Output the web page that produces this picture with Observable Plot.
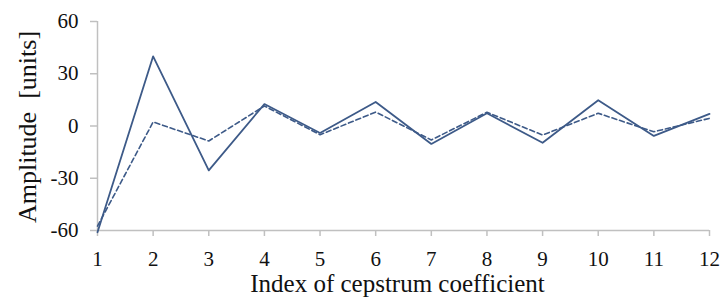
<!DOCTYPE html>
<html><head><meta charset="utf-8">
<script src="https://cdn.jsdelivr.net/npm/d3@7"></script>
<script src="https://cdn.jsdelivr.net/npm/@observablehq/plot@0.6"></script>
<style>body{margin:0;background:#fff}</style>
</head><body><div id="chart"></div>
<script>
const indices = [1,2,3,4,5,6,7,8,9,10,11,12];
const solidValues = [-61, 40, -25.5, 12.6, -4, 13.8, -10.3, 7.3, -9.6, 14.8, -5.7, 7];
const dashedValues = [-57.5, 2.3, -8.6, 11.5, -5, 8, -8, 7.9, -5.2, 7.3, -3.3, 4.4];
const yTicks = [-60, -30, 0, 30, 60];
const xLabel = "Index of cepstrum coefficient";
const yLabel = "Amplitude  [units]";

const solid = indices.map((x, i) => ({x, y: solidValues[i]}));
const dashed = indices.map((x, i) => ({x, y: dashedValues[i]}));
const color = "#3d5a88";
const serif = "'Liberation Serif', 'Times New Roman', serif";

const chart = Plot.plot({
  width: 723, height: 298,
  marginLeft: 97, marginRight: 14, marginTop: 21, marginBottom: 68,
  style: {fontFamily: serif, fontSize: "21px", color: "#111", background: "#fff"},
  x: {domain: [1, 12], label: null},
  y: {domain: [-60, 60], label: null},
  marks: [
    Plot.ruleX([1], {stroke: "#c0c0c0", strokeWidth: 1.5}),
    Plot.ruleY([-60], {stroke: "#c0c0c0", strokeWidth: 1.5}),
    Plot.axisY({ticks: yTicks, tickFormat: d => `${d}`, tickSize: 7, tickPadding: 12, stroke: "#c0c0c0", strokeWidth: 1.5, label: null, fill: "#111", fontSize: 21}),
    Plot.axisX({ticks: indices, tickFormat: d => `${d}`, tickSize: 6, tickPadding: 15, stroke: "#c0c0c0", strokeWidth: 1.5, label: null, fill: "#111", fontSize: 21}),
    Plot.line(dashed, {x: "x", y: "y", stroke: color, strokeWidth: 1.6, strokeDasharray: "5,3"}),
    Plot.line(solid, {x: "x", y: "y", stroke: color, strokeWidth: 1.8}),
    Plot.text([xLabel], {frameAnchor: "bottom", textAnchor: "middle", lineAnchor: "middle", dx: -6, dy: 53, text: d => d, fontSize: 25, fill: "#111"}),
    Plot.text([yLabel], {frameAnchor: "left", textAnchor: "middle", lineAnchor: "middle", dx: -70, dy: 1, rotate: -90, text: d => d, fontSize: 26, fill: "#111"})
  ]
});
document.getElementById("chart").append(chart);
</script>
</body></html>
